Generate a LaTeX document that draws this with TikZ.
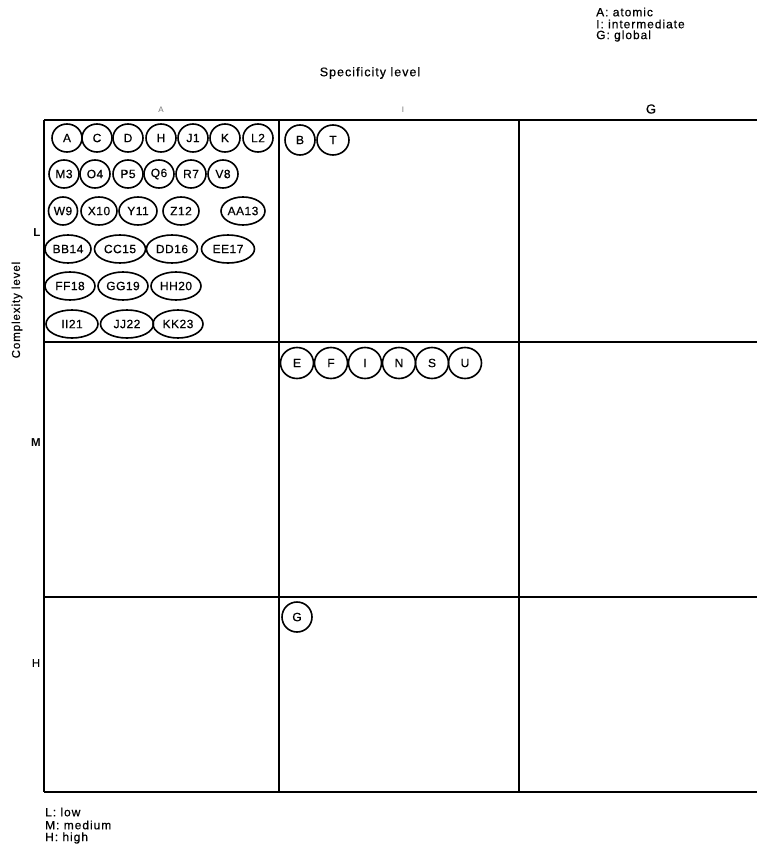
\documentclass[tikz,border=0pt]{standalone}
\usepackage{fontspec}
\setmainfont{Liberation Sans}
\newfontfamily\widesans[LetterSpace=8,FakeBold=0.6]{Liberation Sans}
\newfontfamily\bubsans[LetterSpace=4,FakeBold=0.6]{Liberation Sans}
\newfontfamily\plainsans[FakeBold=0.6]{Liberation Sans}
\usetikzlibrary{shapes.geometric}
\begin{document}
\begin{tikzpicture}[x=1pt,y=-1pt,
  grid/.style={line width=1.5pt},
  bub/.style={ellipse,draw,line width=1.6pt,inner sep=0pt,minimum height=28pt,minimum width=30pt,font=\bubsans\fontsize{12}{12}\selectfont},
  lbl/.style={inner sep=0pt,font=\widesans\fontsize{12}{12}\selectfont},
  leg/.style={inner sep=0pt,anchor=west,font=\widesans\fontsize{12}{12}\selectfont}]
\useasboundingbox (0,0) rectangle (757,851);
% grid
\draw[grid] (44,120) -- (757,120);
\draw[grid] (44,342) -- (757,342);
\draw[grid] (44,597) -- (757,597);
\draw[grid] (44,792) -- (757,792);
\draw[grid] (44,120) -- (44,792);
\draw[grid] (279,120) -- (279,792);
\draw[grid] (519,120) -- (519,792);
% titles and legends
\node[leg] (la) at (596,12) {A: atomic};
\node[leg] (li) at (596,24) {I: intermediate};
\node[leg] (lg) at (596,36) {G: global};
\node[lbl,font=\widesans\fontsize{12.5}{12.5}\selectfont] (spec) at (370,73) {Specificity level};
\node[lbl,font=\fontsize{8}{8}\selectfont,text=black!55] (ca) at (161,110) {A};
\node[lbl,font=\fontsize{8}{8}\selectfont,text=black!55] (ci) at (403,110) {I};
\node[lbl,font=\plainsans\fontsize{13}{13}\selectfont] (cg) at (651,109) {G};
\node[lbl,rotate=90,font=\widesans\fontsize{11.5}{11.5}\selectfont] (cplx) at (17,310) {Complexity level};
\node[lbl,font=\bfseries\fontsize{11.5}{11.5}\selectfont] (rl) at (37,233) {L};
\node[lbl,font=\bfseries\fontsize{11.5}{11.5}\selectfont] (rm) at (36,443) {M};
\node[lbl,font=\plainsans\fontsize{11.5}{11.5}\selectfont] (rh) at (36,663) {H};
\node[leg] (ll) at (45,812) {L: low};
\node[leg] (lm) at (45,825) {M: medium};
\node[leg] (lh) at (45,838) {H: high};
% A-L cell
\node[bub] (A) at (67,138) {A};
\node[bub] (C) at (97,138) {C};
\node[bub] (D) at (128,138) {D};
\node[bub] (H) at (161,138) {H};
\node[bub] (J1) at (193,138) {J1};
\node[bub] (K) at (225,138) {K};
\node[bub] (L2) at (258,138) {L2};
\node[bub] (M3) at (64,174) {M3};
\node[bub] (O4) at (95,174) {O4};
\node[bub] (P5) at (128,174) {P5};
\node[bub] (Q6) at (159,174) {Q6};
\node[bub] (R7) at (191,174) {R7};
\node[bub] (V8) at (223,174) {V8};
\node[bub,minimum width=29pt] (W9) at (63,211) {W9};
\node[bub,minimum width=36pt] (X10) at (99,211) {X10};
\node[bub,minimum width=38pt] (Y11) at (138,211) {Y11};
\node[bub,minimum width=36pt] (Z12) at (181,211) {Z12};
\node[bub,minimum width=44pt] (AA13) at (243,211) {AA13};
\node[bub,minimum width=46pt] (BB14) at (68,249) {BB14};
\node[bub,minimum width=51pt] (CC15) at (120,249) {CC15};
\node[bub,minimum width=51pt] (DD16) at (172,249) {DD16};
\node[bub,minimum width=53pt] (EE17) at (228,249) {EE17};
\node[bub,minimum width=50pt] (FF18) at (70,286) {FF18};
\node[bub,minimum width=50pt] (GG19) at (123,286) {GG19};
\node[bub,minimum width=50pt] (HH20) at (176,286) {HH20};
\node[bub,minimum width=52pt] (II21) at (72,324) {II21};
\node[bub,minimum width=53pt] (JJ22) at (127,324) {JJ22};
\node[bub,minimum width=50pt] (KK23) at (178,324) {KK23};
% I-L cell
\node[bub,minimum width=30pt,minimum height=30pt] (B) at (300,140) {B};
\node[bub,minimum width=32pt,minimum height=30pt] (T) at (333,140) {T};
% I-M cell
\node[bub,minimum width=33pt,minimum height=31pt] (E) at (297,363) {E};
\node[bub,minimum width=33pt,minimum height=31pt] (F) at (331,363) {F};
\node[bub,minimum width=33pt,minimum height=31pt] (I) at (365,363) {I};
\node[bub,minimum width=33pt,minimum height=31pt] (N) at (399,363) {N};
\node[bub,minimum width=33pt,minimum height=31pt] (S) at (432,363) {S};
\node[bub,minimum width=33pt,minimum height=31pt] (U) at (465,363) {U};
% I-H cell
\node[bub,minimum width=30pt,minimum height=30pt] (G) at (297,617) {G};
\end{tikzpicture}
\end{document}
